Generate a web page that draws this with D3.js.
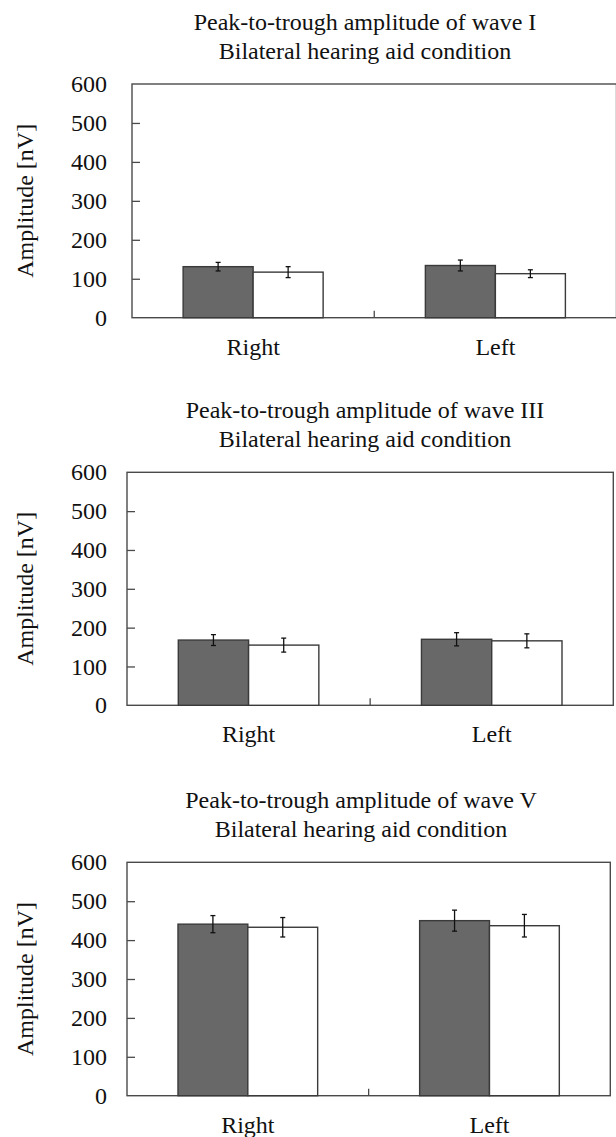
<!DOCTYPE html>
<html>
<head>
<meta charset="utf-8">
<script src="https://cdn.jsdelivr.net/npm/d3@7"></script>
<style>
  html, body { margin: 0; padding: 0; background: #fff; }
  svg { display: block; }
  text { font-family: "Liberation Serif", "Times New Roman", serif; fill: #111; }
</style>
</head>
<body>
<svg id="chart" width="616" height="1137"></svg>
<script>
// ---- data ----
const categories = ["Right", "Left"];
const series = ["aided", "unaided"];
const titleLines = [
  "Peak-to-trough amplitude of wave I",
  "Peak-to-trough amplitude of wave III",
  "Peak-to-trough amplitude of wave V"
];
const subtitle = "Bilateral hearing aid condition";
const yLabel = "Amplitude [nV]";
const yTicks = [0, 100, 200, 300, 400, 500, 600];

const waveIDark = [131, 134];
const waveIDarkErr = [11, 14];
const waveIWhite = [117, 113];
const waveIWhiteErr = [14, 10];

const waveIIIDark = [168, 170];
const waveIIIDarkErr = [14, 17];
const waveIIIWhite = [155, 166];
const waveIIIWhiteErr = [18, 18];

const waveVDark = [441, 450];
const waveVDarkErr = [22, 27];
const waveVWhite = [433, 437];
const waveVWhiteErr = [25, 29];

// ---- layout ----
const panels = [
  { title: titleLines[0], dark: waveIDark, darkErr: waveIDarkErr, white: waveIWhite, whiteErr: waveIWhiteErr,
    left: 132, right: 616.5, top: 84, bottom: 317.7, titleX: 365 },
  { title: titleLines[1], dark: waveIIIDark, darkErr: waveIIIDarkErr, white: waveIIIWhite, whiteErr: waveIIIWhiteErr,
    left: 127, right: 613.3, top: 472.3, bottom: 705.3, titleX: 365 },
  { title: titleLines[2], dark: waveVDark, darkErr: waveVDarkErr, white: waveVWhite, whiteErr: waveVWhiteErr,
    left: 127, right: 610.3, top: 862.3, bottom: 1095.7, titleX: 361 }
];

const svg = d3.select("#chart");
svg.append("rect").attr("width", 616).attr("height", 1137).attr("fill", "#fff");

const fill = { aided: "#686868", unaided: "#ffffff" };
const frameColor = "#4a4a4a";

panels.forEach(p => {
  const g = svg.append("g");

  const x = d3.scaleBand().domain(categories).range([p.left, p.right])
    .paddingInner(0.422).paddingOuter(0.211);
  const x1 = d3.scaleBand().domain(series).range([0, x.bandwidth()]);
  const y = d3.scaleLinear().domain([0, 600]).range([p.bottom, p.top]);

  // titles
  g.append("text").attr("x", p.titleX).attr("y", p.top - 54)
    .attr("text-anchor", "middle").attr("font-size", 24).text(p.title);
  g.append("text").attr("x", p.titleX).attr("y", p.top - 25)
    .attr("text-anchor", "middle").attr("font-size", 24).text(subtitle);

  // frame
  g.append("rect").attr("x", p.left).attr("y", p.top)
    .attr("width", p.right - p.left).attr("height", p.bottom - p.top)
    .attr("fill", "none").attr("stroke", frameColor).attr("stroke-width", 1.4);

  // bars
  const rows = categories.map((c, i) => ({
    cat: c,
    vals: [
      { s: "aided", v: p.dark[i], e: p.darkErr[i] },
      { s: "unaided", v: p.white[i], e: p.whiteErr[i] }
    ]
  }));

  const grp = g.selectAll("g.cat").data(rows).join("g")
    .attr("class", "cat")
    .attr("transform", d => `translate(${x(d.cat)},0)`);

  grp.selectAll("rect").data(d => d.vals).join("rect")
    .attr("x", d => x1(d.s))
    .attr("y", d => y(d.v))
    .attr("width", x1.bandwidth())
    .attr("height", d => y(0) - y(d.v))
    .attr("fill", d => fill[d.s])
    .attr("stroke", "#3a3a3a").attr("stroke-width", 1.4);

  // error bars
  const eb = grp.selectAll("g.err").data(d => d.vals).join("g").attr("class", "err")
    .attr("transform", d => `translate(${x1(d.s) + x1.bandwidth() / 2},0)`);
  eb.append("line").attr("x1", 0).attr("x2", 0)
    .attr("y1", d => y(d.v + d.e)).attr("y2", d => y(d.v - d.e))
    .attr("stroke", "#111").attr("stroke-width", 1.3);
  eb.append("line").attr("x1", -2.5).attr("x2", 2.5)
    .attr("y1", d => y(d.v + d.e)).attr("y2", d => y(d.v + d.e))
    .attr("stroke", "#111").attr("stroke-width", 1.3);
  eb.append("line").attr("x1", -2.5).attr("x2", 2.5)
    .attr("y1", d => y(d.v - d.e)).attr("y2", d => y(d.v - d.e))
    .attr("stroke", "#111").attr("stroke-width", 1.3);

  // y axis (inward ticks)
  const yAxis = d3.axisLeft(y).tickValues(yTicks).tickSize(-8)
    .tickPadding(p.left - 107).tickFormat(d3.format("d"));
  const ya = g.append("g").attr("transform", `translate(${p.left},0)`).call(yAxis);
  ya.select(".domain").remove();
  ya.selectAll(".tick line").attr("stroke", frameColor).attr("stroke-width", 1.3)
    .attr("display", d => (d === 0 || d === 600) ? "none" : null);
  ya.selectAll(".tick text").attr("font-size", 24).attr("fill", "#111")
    .attr("font-family", "'Liberation Serif', 'Times New Roman', serif");

  // x axis: category labels and the separator tick between categories
  const xAxis = d3.axisBottom(x).tickSize(0).tickPadding(0);
  const xa = g.append("g").attr("transform", `translate(0,${p.bottom})`).call(xAxis);
  xa.select(".domain").remove();
  xa.selectAll(".tick text").attr("font-size", 24).attr("fill", "#111")
    .attr("dy", null).attr("y", 37)
    .attr("font-family", "'Liberation Serif', 'Times New Roman', serif");

  const mid = (x(categories[0]) + x(categories[1]) + x.bandwidth()) / 2;
  g.append("line").attr("x1", mid).attr("x2", mid)
    .attr("y1", p.bottom).attr("y2", p.bottom - 7)
    .attr("stroke", frameColor).attr("stroke-width", 1.3);

  // y label
  g.append("text")
    .attr("transform", `translate(33,${(p.top + p.bottom) / 2}) rotate(-90)`)
    .attr("text-anchor", "middle").attr("font-size", 24).text(yLabel);
});
</script>
</body>
</html>
